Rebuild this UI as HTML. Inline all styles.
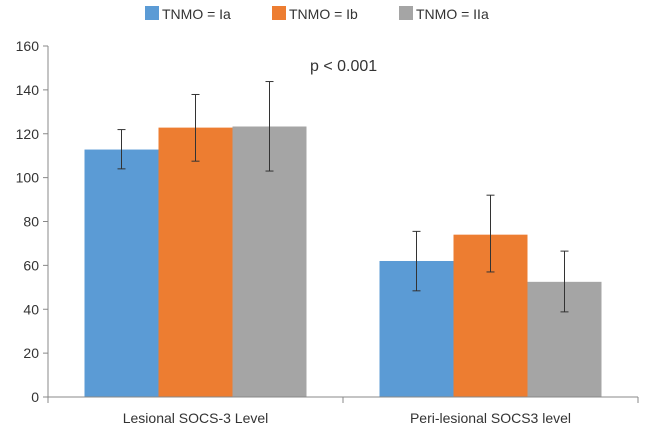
<!DOCTYPE html>
<html><head><meta charset="utf-8"><style>
body{margin:0;background:#fff;font-family:"Liberation Sans",sans-serif}
svg text{font-family:"Liberation Sans",sans-serif;fill:#333}
</style></head><body>
<svg id="c" width="645" height="434"></svg>
<script>
const categories=["Lesional SOCS-3 Level","Peri-lesional SOCS3 level"];
const seriesNames=["TNMO = Ia","TNMO = Ib","TNMO = IIa"];
const seriesColors=["#5b9bd5","#ed7d31","#a5a5a5"];
const valsIa=[112.8,62];
const valsIb=[122.8,74];
const valsIIa=[123.3,52.5];
const errLowIa=[104,48.4], errHighIa=[121.9,75.5];
const errLowIb=[107.5,57], errHighIb=[137.9,92];
const errLowIIa=[103,38.8], errHighIIa=[143.8,66.5];
const yTicks=[0,20,40,60,80,100,120,140,160];

const svg=document.getElementById('c');
const NS="http://www.w3.org/2000/svg";
function mk(t,a,p){const e=document.createElementNS(NS,t);for(const k in a)e.setAttribute(k,a[k]);(p||svg).appendChild(e);return e;}
const x0=48,x1=638,y0=397,y1=46;
const y=v=>y0-(v-0)/(160-0)*(y0-y1);
const groupW=(x1-x0)/categories.length;
const barW=74;
const x=(ci,si)=>x0+ci*groupW+(groupW-3*barW)/2+si*barW;

const series=[[valsIa,errLowIa,errHighIa],[valsIb,errLowIb,errHighIb],[valsIIa,errLowIIa,errHighIIa]];
series.forEach((s,si)=>{
  s[0].forEach((v,ci)=>{
    const r=mk('rect',{x:x(ci,si),y:y(v),width:barW,height:y0-y(v),fill:seriesColors[si]});
    
    
  });
});
series.forEach((s,si)=>{
  s[0].forEach((v,ci)=>{
    const cx=x(ci,si)+barW/2;
    const g=mk('g',{stroke:'#333','stroke-width':1});
    
    
    mk('line',{x1:cx,x2:cx,y1:y(s[1][ci]),y2:y(s[2][ci])},g);
    mk('line',{x1:cx-4,x2:cx+4,y1:y(s[1][ci]),y2:y(s[1][ci])},g);
    mk('line',{x1:cx-4,x2:cx+4,y1:y(s[2][ci]),y2:y(s[2][ci])},g);
  });
});
// axes
const ax=mk('g',{stroke:'#888','stroke-width':1});


mk('line',{x1:x0,x2:x0,y1:y1,y2:y0},ax);
mk('line',{x1:x0,x2:x1,y1:y0,y2:y0},ax);
categories.forEach((c,i)=>{mk('line',{x1:x0+(i+1)*groupW,x2:x0+(i+1)*groupW,y1:y0,y2:y0+6},ax);});
mk('line',{x1:x0,x2:x0,y1:y0,y2:y0+6},ax);
yTicks.forEach(t=>{
  mk('line',{x1:x0-5,x2:x0,y1:y(t),y2:y(t)},ax);
  const tx=mk('text',{x:x0-9,y:y(t)+5,'text-anchor':'end','font-size':14});
  tx.textContent=t;
  
  
});
categories.forEach((c,i)=>{
  const tx=mk('text',{x:x0+(i+0.5)*groupW,y:423,'text-anchor':'middle','font-size':14});
  tx.textContent=c;
  
  
});
// legend
const lx=[145,272,399];
seriesNames.forEach((n,i)=>{
  const g=mk('g',{});
  
  
  mk('rect',{x:lx[i],y:6,width:14,height:14,fill:seriesColors[i]},g);
  const t=mk('text',{x:lx[i]+17,y:19,'font-size':14},g);
  t.textContent=n;
});
const p=mk('text',{x:310,y:71,'font-size':16});
p.textContent="p < 0.001";


</script>
</body></html>
